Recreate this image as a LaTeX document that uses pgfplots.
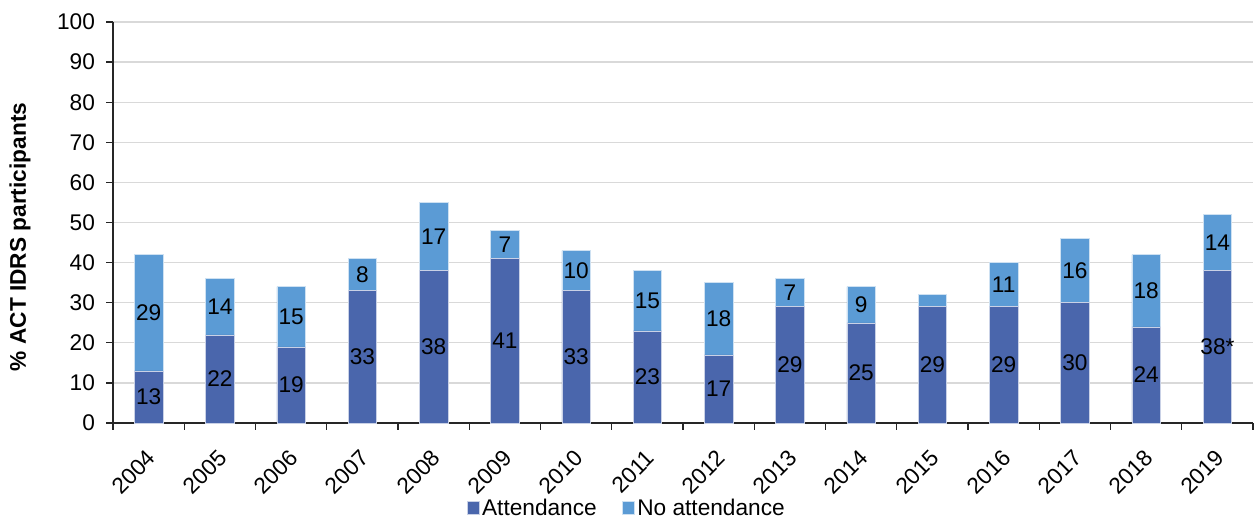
\documentclass[border=0pt]{standalone}
\usepackage{fontspec}
\setmainfont{Liberation Sans}
\usepackage{pgfplots}
\usepackage{pgfplotstable}
\pgfplotsset{compat=1.18}
\definecolor{att}{HTML}{4A66AC}
\definecolor{noatt}{HTML}{5B9BD5}
\definecolor{gridc}{HTML}{D9D9D9}
\newcommand\fs{\fontsize{17}{20.4}\selectfont}
\pgfplotstableread{
x year att no attl nol
0 2004 13 29 13 29
1 2005 22 14 22 14
2 2006 19 15 19 15
3 2007 33 8 33 8
4 2008 38 17 38 17
5 2009 41 7 41 7
6 2010 33 10 33 10
7 2011 23 15 23 15
8 2012 17 18 17 18
9 2013 29 7 29 7
10 2014 25 9 25 9
11 2015 29 3 29 {}
12 2016 29 11 29 11
13 2017 30 16 30 16
14 2018 24 18 24 18
15 2019 38 14 38* 14
}\data
\begin{document}
\begin{tikzpicture}
\begin{axis}[
  name=main,
  scale only axis, width=855pt, height=300.75pt,
  xmin=-0.5, xmax=15.5, ymin=0, ymax=100,
  ybar stacked, bar width=0.4,
  axis x line*=bottom, axis y line*=left,
  axis line style={black!85, line width=1pt},
  ytick={0,10,...,100},
  ymajorgrids, grid style={gridc, line width=1pt},
  xtick={0,...,15},
  xticklabels={2004,2005,2006,2007,2008,2009,2010,2011,2012,2013,2014,2015,2016,2017,2018,2019},
  minor xtick={-0.5,0.5,...,15.5},
  tick align=outside,
  major tick length=5pt, minor tick length=5pt,
  tick style={black!85, line width=1pt},
  major x tick style={draw=none},
  tick label style={font=\fs},
  /pgf/number format/assume math mode=true,
  xticklabel style={rotate=45, anchor=north east, inner sep=0pt, xshift=-11.3pt, yshift=-8.2pt},
  yticklabel style={xshift=-5pt},
  ylabel={\% ACT IDRS participants},
  ylabel style={font=\fs\bfseries, at={(axis description cs:-0.0816,0.464)}, anchor=center},
  legend style={at={(axis description cs:0.451,-0.212)}, anchor=center, draw=none,
    legend columns=2, font=\fs, inner sep=0pt,
    /tikz/every even column/.append style={column sep=17pt}},
  legend image code/.code={\fill[#1] (0pt,-4.5pt) rectangle (9pt,5.2pt);},
]
\addplot[fill=att, draw=white!70!att, line width=0.4pt] table[x=x, y=att] {\data};
\addlegendentry{Attendance}
\addplot[fill=noatt, draw=white!70!noatt, line width=0.4pt] table[x=x, y=no] {\data};
\addlegendentry{No attendance}
\coordinate (bbsw) at (rel axis cs:-0.0991,-0.2394);
\coordinate (bbne) at (rel axis cs:1.0061,1.0549);
\end{axis}
\begin{axis}[
  scale only axis, width=855pt, height=300.75pt,
  xmin=-0.5, xmax=15.5, ymin=0, ymax=100, hide axis,
]
\addplot[only marks, mark=*, mark size=0pt, mark options={draw=none, fill=none},
  nodes near coords, point meta=explicit symbolic,
  nodes near coords style={anchor=center, font=\fs, text=black, inner sep=0pt}]
  table[x=x, y expr=\thisrow{att}/2, meta=attl] {\data};
\addplot[only marks, mark=*, mark size=0pt, mark options={draw=none, fill=none},
  nodes near coords, point meta=explicit symbolic,
  nodes near coords style={anchor=center, font=\fs, text=black, inner sep=0pt}]
  table[x=x, y expr=\thisrow{att}+\thisrow{no}/2, meta=nol] {\data};
\end{axis}
\pgfresetboundingbox
\path[use as bounding box] (bbsw) rectangle (bbne);
\end{tikzpicture}
\end{document}
